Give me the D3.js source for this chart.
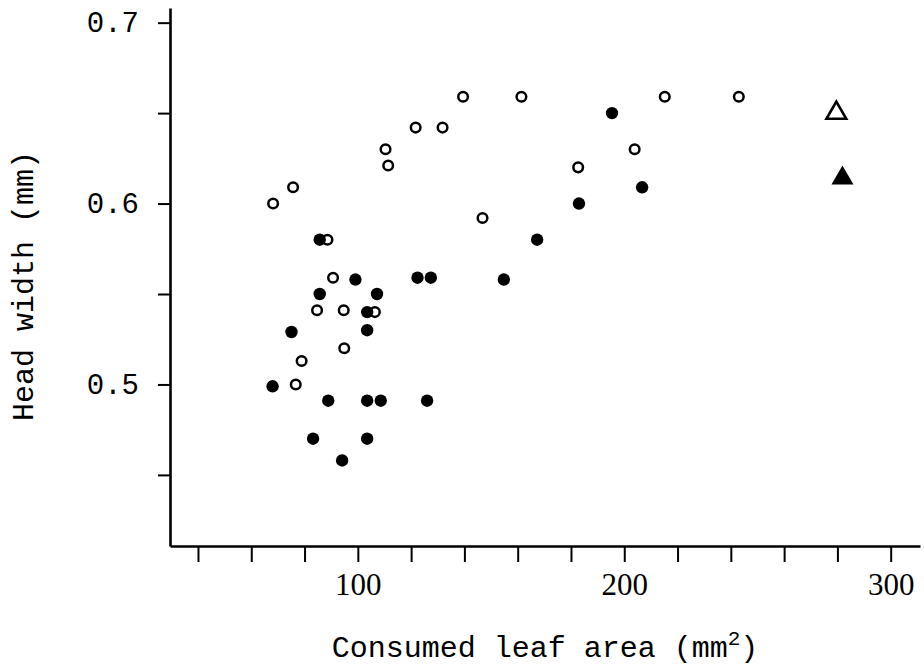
<!DOCTYPE html>
<html>
<head>
<meta charset="utf-8">
<script src="https://cdn.jsdelivr.net/npm/d3@7"></script>
<style>
  body { margin: 0; background: #fff; }
</style>
</head>
<body>
<div class="chart"></div>
<script>
const WIDTH = 924
const HEIGHT = 669

// open circles (o)
const openX = [68.2, 75.7, 76.7, 78.9, 84.7, 88.6, 90.7, 94.7, 94.9, 106.4, 110.4, 111.4, 121.7, 131.8, 139.5, 146.8, 161.4, 182.7, 203.9, 215.2, 243.0]
const openY = [0.600, 0.609, 0.500, 0.513, 0.541, 0.580, 0.559, 0.541, 0.520, 0.540, 0.630, 0.621, 0.642, 0.642, 0.659, 0.592, 0.659, 0.620, 0.630, 0.659, 0.659]

// filled circles (•)
const fillX = [68.0, 75.1, 83.2, 85.7, 85.7, 88.9, 94.1, 99.1, 103.5, 103.5, 103.5, 103.5, 107.2, 108.6, 122.4, 127.4, 126.0, 154.8, 167.3, 183.0, 195.4, 206.7]
const fillY = [0.499, 0.529, 0.470, 0.580, 0.550, 0.491, 0.458, 0.558, 0.540, 0.530, 0.491, 0.470, 0.550, 0.491, 0.559, 0.559, 0.491, 0.558, 0.580, 0.600, 0.650, 0.609]

// triangles
const triX = [279.6, 281.9]
const triY = [0.650, 0.614]
const triFilled = [false, true]

const xTicks = d3.range(40, 301, 20)
const xLabels = [100, 200, 300]
const yTicks = [0.45, 0.5, 0.55, 0.6, 0.65, 0.7]
const yLabels = [0.5, 0.6, 0.7]

const x = d3.scaleLinear().domain([29.5, 311]).range([170, 920])
const y = d3.scaleLinear().domain([0.4107, 0.7081]).range([546, 8])

const svg = d3.select("div.chart")
            .append("svg")
            .attr("width", WIDTH)
            .attr("height", HEIGHT);

// axes
const xAxis = svg.append("g")
            .attr("transform", "translate(0,546)")
            .call(d3.axisBottom(x)
                .tickValues(xTicks)
                .tickSize(16)
                .tickSizeOuter(0)
                .tickPadding(11)
                .tickFormat(d => xLabels.includes(d) ? d : ""));
xAxis.select(".domain").attr("stroke-width", 2.6);
xAxis.selectAll(".tick line").attr("stroke-width", 2);
xAxis.selectAll("text")
            .attr("font-family", "Liberation Serif")
            .attr("font-size", 31)
            .attr("fill", "#000");

const yAxis = svg.append("g")
            .attr("transform", "translate(170,0)")
            .call(d3.axisLeft(y)
                .tickValues(yTicks)
                .tickSize(12)
                .tickSizeOuter(0)
                .tickPadding(19)
                .tickFormat(d => yLabels.includes(d) ? d3.format(".1f")(d) : ""));
yAxis.select(".domain").attr("stroke-width", 2.6);
yAxis.selectAll(".tick line").attr("stroke-width", 2);
yAxis.selectAll("text")
            .attr("font-family", "Liberation Mono")
            .attr("font-size", 29)
            .attr("fill", "#000");

// points
svg.selectAll("circle.open")
            .data(openX)
            .enter()
            .append("circle")
            .attr("class", "open")
            .attr("cx", d => x(d))
            .attr("cy", (d, i) => y(openY[i]))
            .attr("r", 4.8)
            .style("fill", "#fff")
            .style("stroke", "#000")
            .style("stroke-width", 2.5);

svg.selectAll("circle.filled")
            .data(fillX)
            .enter()
            .append("circle")
            .attr("class", "filled")
            .attr("cx", d => x(d))
            .attr("cy", (d, i) => y(fillY[i]))
            .attr("r", 6.2)
            .style("fill", "#000");

svg.selectAll("path.tri")
            .data(triX)
            .enter()
            .append("path")
            .attr("class", "tri")
            .attr("d", (d, i) => d3.symbol(d3.symbolTriangle, triFilled[i] ? 210 : 170)())
            .attr("transform", (d, i) => `translate(${x(d)},${y(triY[i])})`)
            .style("fill", (d, i) => triFilled[i] ? "#000" : "#fff")
            .style("stroke", "#000")
            .style("stroke-width", (d, i) => triFilled[i] ? 0 : 2.6)
            .style("stroke-linejoin", "miter");

// axis titles
let xTitle = svg.append("text")
            .attr("x", 545)
            .attr("y", 657)
            .attr("text-anchor", "middle")
            .attr("font-family", "Liberation Mono")
            .attr("font-size", 30);
xTitle.append("tspan").text("Consumed leaf area (mm");
xTitle.append("tspan")
            .attr("dy", -12)
            .attr("font-size", 21)
            .text("2");
xTitle.append("tspan")
            .attr("dy", 12)
            .text(")");

svg.append("text")
            .attr("transform", "translate(33,286) rotate(-90)")
            .attr("text-anchor", "middle")
            .attr("font-family", "Liberation Mono")
            .attr("font-size", 30)
            .text("Head width (mm)");
</script>
</body>
</html>
